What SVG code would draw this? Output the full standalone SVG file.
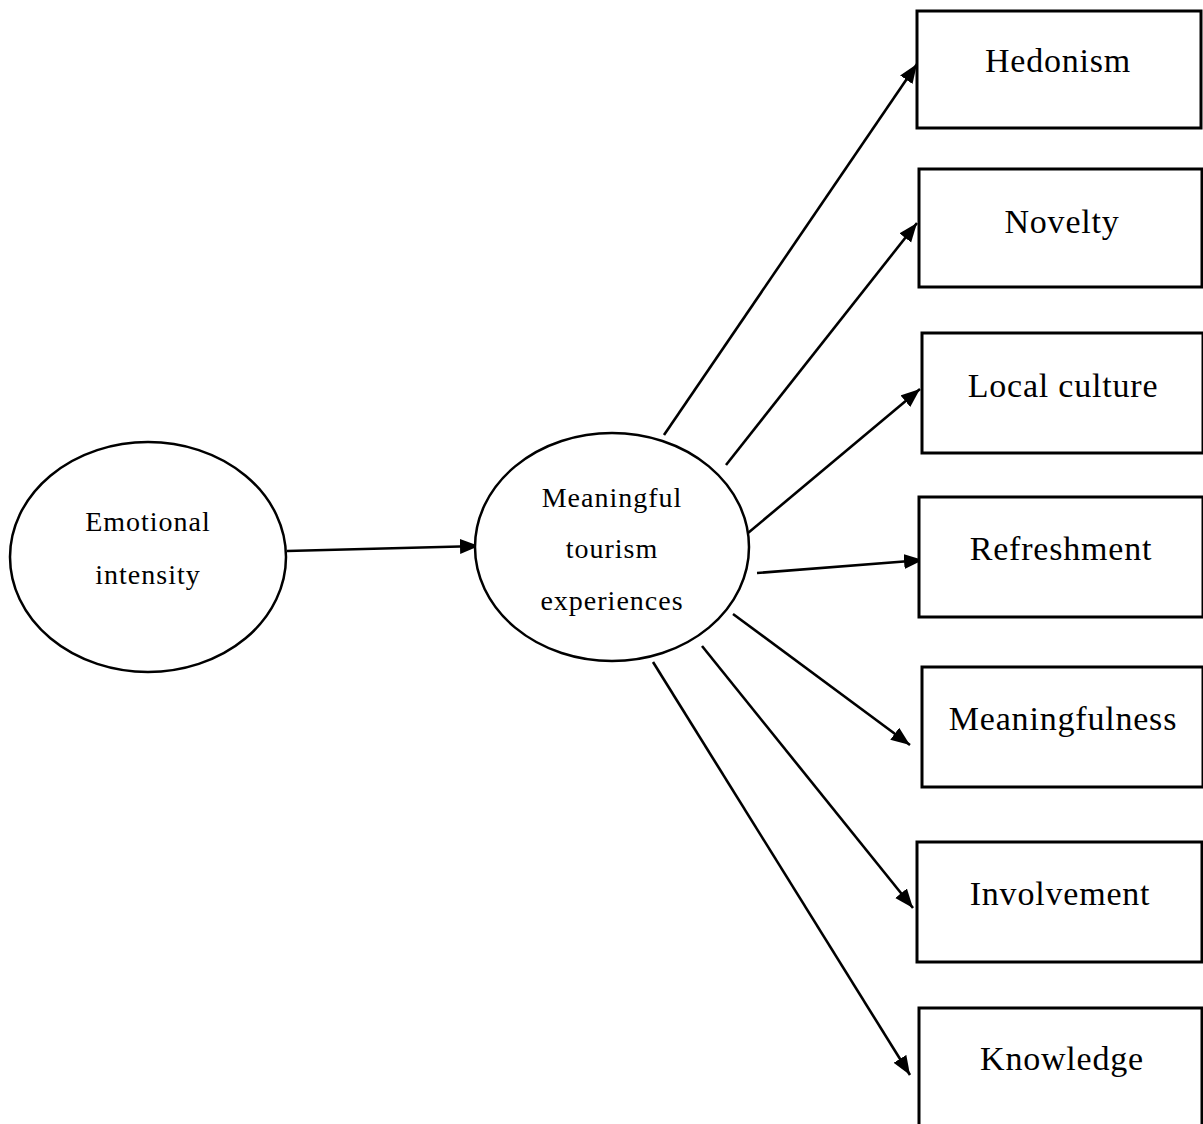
<svg xmlns="http://www.w3.org/2000/svg" width="1203" height="1124" viewBox="0 0 1203 1124">
<style>
.ell{fill:#fff;stroke:#000;stroke-width:2.5}
.box{fill:#fff;stroke:#000;stroke-width:3}
.et{font-family:"Liberation Serif","Times New Roman",serif;font-size:28px;fill:#000;text-anchor:middle;letter-spacing:1px}
.bt{font-family:"Liberation Serif","Times New Roman",serif;font-size:34px;fill:#000;text-anchor:middle;letter-spacing:0.8px}
.edge{stroke:#000;stroke-width:2.6;fill:none;marker-end:url(#ah)}
</style>
<defs>
<marker id="ah" markerUnits="userSpaceOnUse" markerWidth="20" markerHeight="16" refX="19" refY="7.5" orient="auto">
<path d="M0,0 L19,7.5 L0,15 z" fill="#000"/>
</marker>
</defs>
<rect width="1203" height="1124" fill="#fff"/>
<g id="connectors">
<line class="edge" x1="287" y1="551" x2="479" y2="546"/>
<line class="edge" x1="664" y1="435" x2="917" y2="64"/>
<line class="edge" x1="726" y1="465" x2="917" y2="223"/>
<line class="edge" x1="748" y1="533" x2="920" y2="389"/>
<line class="edge" x1="757" y1="573" x2="923" y2="560"/>
<line class="edge" x1="733" y1="614" x2="910" y2="745"/>
<line class="edge" x1="702" y1="646" x2="913" y2="908"/>
<line class="edge" x1="653" y1="662" x2="910" y2="1075"/>
</g>
<g id="emotional">
<ellipse class="ell" cx="148" cy="557" rx="138" ry="115"/>
<text class="et" x="148" y="531">Emotional</text>
<text class="et" x="148" y="584">intensity</text>
</g>
<g id="mte">
<ellipse class="ell" cx="612" cy="547" rx="137" ry="114"/>
<text class="et" x="612" y="507">Meaningful</text>
<text class="et" x="612" y="558">tourism</text>
<text class="et" x="612" y="610">experiences</text>
</g>
<g id="hedonism">
<rect class="box" x="917" y="11" width="284" height="117"/>
<text class="bt" x="1058" y="72">Hedonism</text>
</g>
<g id="novelty">
<rect class="box" x="919" y="169" width="283" height="118"/>
<text class="bt" x="1062" y="233">Novelty</text>
</g>
<g id="localculture">
<rect class="box" x="922" y="333" width="281" height="120"/>
<text class="bt" x="1063" y="397">Local culture</text>
</g>
<g id="refreshment">
<rect class="box" x="919" y="497" width="284" height="120"/>
<text class="bt" x="1061" y="560">Refreshment</text>
</g>
<g id="meaningfulness">
<rect class="box" x="922" y="667" width="281" height="120"/>
<text class="bt" x="1063" y="730">Meaningfulness</text>
</g>
<g id="involvement">
<rect class="box" x="917" y="842" width="285" height="120"/>
<text class="bt" x="1060" y="905">Involvement</text>
</g>
<g id="knowledge">
<rect class="box" x="919" y="1008" width="283" height="130"/>
<text class="bt" x="1062" y="1070">Knowledge</text>
</g>
</svg>
